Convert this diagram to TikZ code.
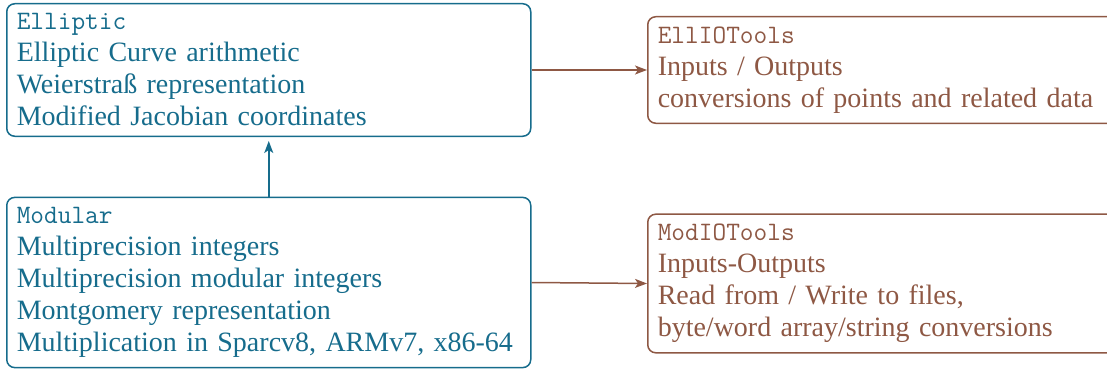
\documentclass[tikz,border=0pt]{standalone}
\usepackage{fontspec}
\setmainfont{Liberation Serif}
\usetikzlibrary{arrows.meta}
\definecolor{cblue}{RGB}{22,108,140}
\definecolor{cbrown}{RGB}{142,88,68}
\newcommand\boxtitle[1]{{\fontsize{13.3}{16}\selectfont\ttfamily #1}}
\begin{document}
\begin{tikzpicture}[x=0.5pt,y=-0.5pt,
  box/.style={draw, rounded corners=4pt, line width=0.75pt, align=left,
    inner xsep=5pt, inner ysep=5pt, anchor=west,
    font=\fontsize{14}{16}\selectfont},
  bluebox/.style={box, draw=cblue, text=cblue, text width=252pt},
  brownbox/.style={box, draw=cbrown, text=cbrown, text width=226pt},
  arr/.style={-{Stealth[length=6pt,width=4.5pt,inset=1.5pt]}, line width=0.75pt}]
\useasboundingbox (0,0) rectangle (1107,369);
\node[bluebox] (ell) at (6,70) {\boxtitle{Elliptic}\\Elliptic Curve arithmetic\\Weierstraß representation\\Modified Jacobian coordinates};
\node[bluebox] (mod) at (6,282.5) {\boxtitle{Modular}\\Multiprecision integers\\Multiprecision modular integers\\Montgomery representation\\Multiplication in Sparcv8, ARMv7, x86-64};
\node[brownbox] (ellio) at (647,70) {\boxtitle{EllIOTools}\\Inputs / Outputs\\conversions of points and related data};
\node[brownbox] (modio) at (647,283.5) {\boxtitle{ModIOTools}\\Inputs-Outputs\\Read from / Write to files,\\byte/word array/string conversions};
\draw[arr, cblue, shorten >=2pt] (mod.north) -- (ell.south);
\draw[arr, cbrown] (ell.east) -- (ellio.west);
\draw[arr, cbrown] (mod.east) -- (modio.west);
\end{tikzpicture}
\end{document}
